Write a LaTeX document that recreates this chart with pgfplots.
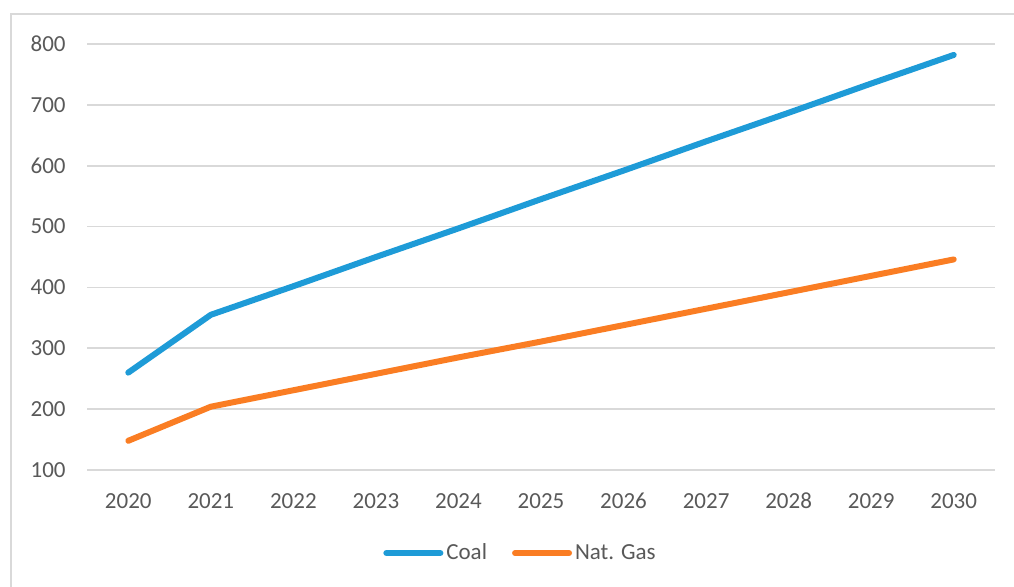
\documentclass[border=0pt]{standalone}
\usepackage{pgfplots}
\pgfplotsset{compat=1.18}
\usepackage{fontspec}
\setmainfont{Carlito}
\definecolor{coalblue}{RGB}{30,155,215}
\definecolor{gasorange}{RGB}{250,125,35}
\definecolor{gridgray}{RGB}{217,217,217}
\definecolor{textgray}{RGB}{89,89,89}
\begin{document}
\begin{tikzpicture}
\useasboundingbox (0pt,0pt) rectangle (507pt,293.5pt);
% chart frame
\draw[gridgray,line width=1pt] (5.5pt,-20pt) rectangle (530pt,286.5pt);
\begin{axis}[
  at={(43.5pt,58.5pt)}, anchor=south west,
  scale only axis, width=454pt, height=213pt,
  xmin=-0.5, xmax=10.5, ymin=100, ymax=800,
  xtick={0,...,10},
  xticklabels={2020,2021,2022,2023,2024,2025,2026,2027,2028,2029,2030},
  ytick={100,200,...,800},
  ymajorgrids, major grid style={gridgray,line width=0.9pt},
  axis line style={draw=none},
  major tick length=0pt,
  /pgf/number format/assume math mode=true,
  every tick label/.append style={inner sep=0pt,font=\fontsize{11.5}{13}\selectfont,text=textgray},
  xticklabel style={text height=7.3pt, text depth=0pt},
  yticklabel shift=10.5pt,
  xticklabel shift=12pt,
  legend columns=2,
  legend style={at={(axis description cs:0.478,-0.195)}, anchor=center, draw=none,
    font=\fontsize{11.5}{13}\selectfont, text=textgray,
    nodes={inner sep=1.5pt},
    /tikz/every even column/.append style={column sep=11pt},
    inner sep=0pt},
  legend image code/.code={\draw[#1,line width=3pt,line cap=round] (0pt,0pt) -- (27pt,0pt);},
]
\addplot[coalblue,line width=3pt,line cap=round,line join=round] coordinates {
  (0,260) (1,355) (2,402) (3,450) (4,497) (5,545) (6,592) (7,640) (8,687) (9,735) (10,782)};
\addlegendentry{Coal}
\addplot[gasorange,line width=3pt,line cap=round,line join=round] coordinates {
  (0,148) (1,204) (2,231) (3,258) (4,285) (5,311) (6,338) (7,365) (8,392) (9,419) (10,446)};
\addlegendentry{Nat. Gas}
\end{axis}
\end{tikzpicture}
\end{document}
